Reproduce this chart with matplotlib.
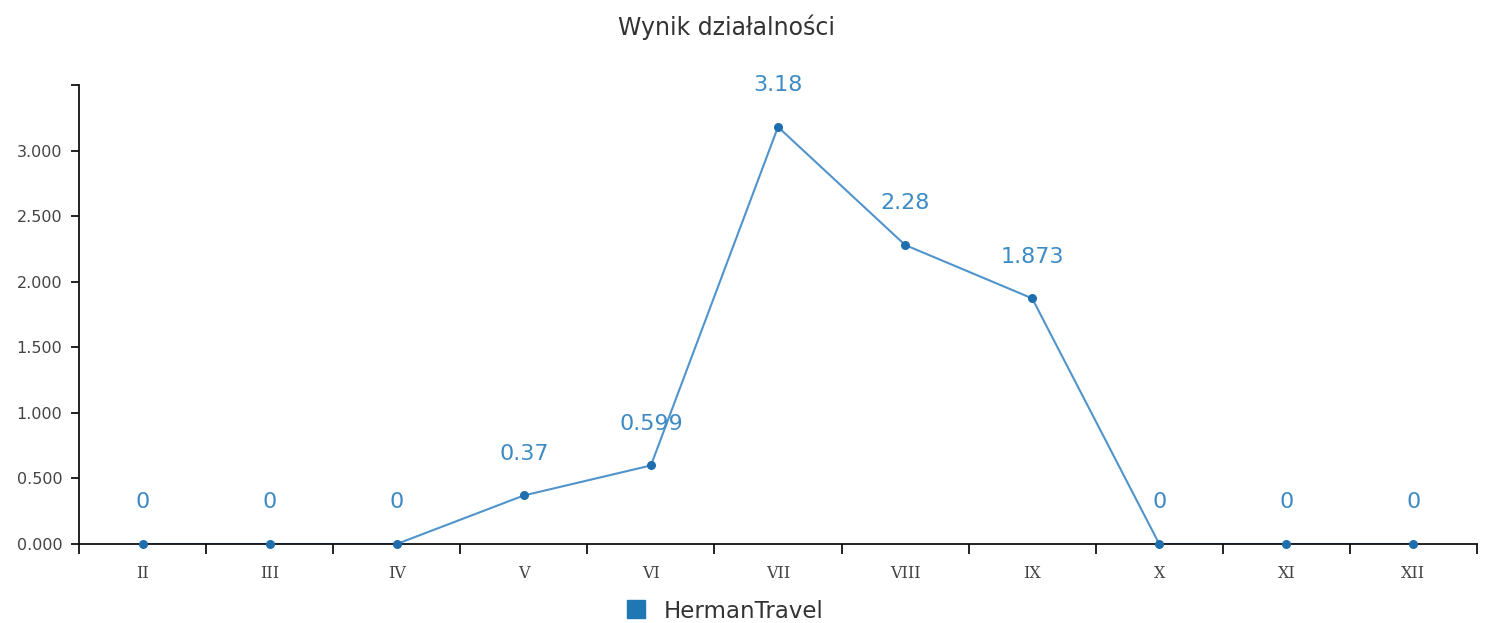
import matplotlib
matplotlib.use("Agg")
import matplotlib.pyplot as plt
from matplotlib.lines import Line2D
import numpy as np

months = ["II", "III", "IV", "V", "VI", "VII", "VIII", "IX", "X", "XI", "XII"]
values = [0, 0, 0, 0.37, 0.599, 3.18, 2.28, 1.873, 0, 0, 0]
value_labels = ["0", "0", "0", "0.37", "0.599", "3.18", "2.28", "1.873", "0", "0", "0"]
y_ticks = [0.0, 0.5, 1.0, 1.5, 2.0, 2.5, 3.0]
series_name = "HermanTravel"
title = "Wynik działalności"

W, H = 1485, 623
fig = plt.figure(figsize=(W / 100, H / 100), dpi=100)
ax = fig.add_axes([79 / W, (H - 544) / H, (1477 - 79) / W, (544 - 85) / H])

n = len(months)
x = np.arange(n)

ax.plot(x, values, color="#5094cb", linewidth=1.5, zorder=2)
ax.scatter(x, values, s=30, color="#1f6fae", zorder=3, clip_on=False)

for xi, v, lab in zip(x, values, value_labels):
    ax.annotate(lab, (xi, v), xytext=(0, 30), textcoords="offset points",
                ha="center", va="center", fontsize=16, color="#3d8bc4")

ax.set_xlim(-0.5, n - 0.5)
ax.set_ylim(0, 3.5)

# y axis: ticks plus the outer tick at the top
ax.set_yticks(y_ticks + [3.5])
ax.set_yticklabels([f"{t:.3f}" for t in y_ticks] + [""])
ax.tick_params(axis="y", length=6, width=1.3, color="#111111", labelsize=11.5,
               labelcolor="#444444", pad=6)

# x axis: labels at band centers, ticks at band edges
ax.set_xticks(x)
ax.set_xticklabels(months, fontfamily="DejaVu Serif")
ax.tick_params(axis="x", which="major", length=0, labelsize=11.5, labelcolor="#444444", pad=15)
ax.set_xticks(np.arange(-0.5, n, 1.0), minor=True)
ax.tick_params(axis="x", which="minor", length=7, width=1.3, color="#111111")

for side in ["top", "right"]:
    ax.spines[side].set_visible(False)
for side in ["left", "bottom"]:
    ax.spines[side].set_linewidth(1.3)
    ax.spines[side].set_color("#111111")

fig.text(726 / W, (H - 27) / H, title, ha="center", va="center", fontsize=17, color="#333333")

handle = Line2D([], [], marker="s", linestyle="none", markersize=13,
                markerfacecolor="#1f77b4", markeredgecolor="#1f77b4")
fig.legend([handle], [series_name], loc="center", bbox_to_anchor=(718 / W, (H - 611) / H),
           frameon=False, fontsize=16.5, handletextpad=0.2, labelcolor="#333333")

fig.savefig("out.png", dpi=100)
